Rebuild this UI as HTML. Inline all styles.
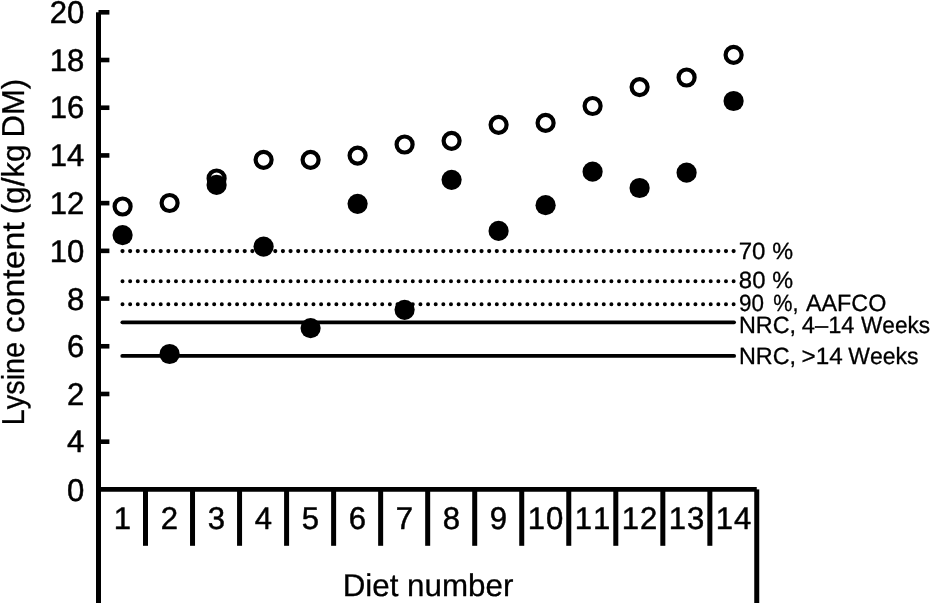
<!DOCTYPE html>
<html lang="en"><head><meta charset="utf-8"><title>Lysine content by diet number</title>
<style>html,body{margin:0;padding:0;background:#fff}svg{display:block}</style></head>
<body>
<svg width="931" height="603" viewBox="0 0 931 603">
<rect width="931" height="603" fill="#fff"/>
<g fill="#000" stroke="none">
<rect x="96" y="12.3" width="5" height="590.7"/>
<rect x="96" y="487" width="660.75" height="4.75"/>
<rect x="754.25" y="489.4" width="5" height="113.6"/>
<rect x="98.5" y="439.39" width="10.9" height="4.6"/>
<rect x="98.5" y="391.68" width="10.9" height="4.6"/>
<rect x="98.5" y="343.97" width="10.9" height="4.6"/>
<rect x="98.5" y="296.26" width="10.9" height="4.6"/>
<rect x="98.5" y="248.55" width="10.9" height="4.6"/>
<rect x="98.5" y="200.84" width="10.9" height="4.6"/>
<rect x="98.5" y="153.13" width="10.9" height="4.6"/>
<rect x="98.5" y="105.42" width="10.9" height="4.6"/>
<rect x="98.5" y="57.71" width="10.9" height="4.6"/>
<rect x="98.5" y="10.00" width="10.9" height="4.6"/>
<rect x="143.00" y="489" width="5" height="56.8"/>
<rect x="190.03" y="489" width="5" height="56.8"/>
<rect x="237.06" y="489" width="5" height="56.8"/>
<rect x="284.09" y="489" width="5" height="56.8"/>
<rect x="331.12" y="489" width="5" height="56.8"/>
<rect x="378.15" y="489" width="5" height="56.8"/>
<rect x="425.18" y="489" width="5" height="56.8"/>
<rect x="472.21" y="489" width="5" height="56.8"/>
<rect x="519.24" y="489" width="5" height="56.8"/>
<rect x="566.27" y="489" width="5" height="56.8"/>
<rect x="613.30" y="489" width="5" height="56.8"/>
<rect x="660.33" y="489" width="5" height="56.8"/>
<rect x="707.36" y="489" width="5" height="56.8"/>
</g>
<g stroke="#000" fill="none" stroke-linecap="round">
<line x1="122.5" y1="251.1" x2="733.8" y2="251.1" stroke-width="4.2" stroke-dasharray="0 7.639"/>
<line x1="122.5" y1="281.2" x2="733.8" y2="281.2" stroke-width="4.0" stroke-dasharray="0 7.639"/>
<line x1="122.5" y1="304.3" x2="733.8" y2="304.3" stroke-width="4.0" stroke-dasharray="0 7.639"/>
<line x1="122.3" y1="322.3" x2="734.1" y2="322.3" stroke-width="3.7"/>
<line x1="122.3" y1="355.9" x2="734.1" y2="355.9" stroke-width="3.9"/>
</g>
<g fill="#fff" stroke="#000" stroke-width="4.2">
<circle cx="122.6" cy="206.5" r="8.0"/>
<circle cx="169.6" cy="203" r="8.0"/>
<circle cx="216.6" cy="178.5" r="8.0"/>
<circle cx="263.6" cy="159.8" r="8.0"/>
<circle cx="310.6" cy="159.8" r="8.0"/>
<circle cx="357.6" cy="155.6" r="8.0"/>
<circle cx="404.6" cy="144.5" r="8.0"/>
<circle cx="451.6" cy="140.8" r="8.0"/>
<circle cx="498.6" cy="124.8" r="8.0"/>
<circle cx="545.6" cy="122.9" r="8.0"/>
<circle cx="592.6" cy="106" r="8.0"/>
<circle cx="639.6" cy="87.1" r="8.0"/>
<circle cx="686.6" cy="77.5" r="8.0"/>
<circle cx="733.6" cy="54.9" r="8.0"/>
</g><g fill="#000">
<circle cx="122.6" cy="235.1" r="10.1"/>
<circle cx="169.6" cy="354" r="10.1"/>
<circle cx="216.6" cy="184.9" r="10.1"/>
<circle cx="263.6" cy="246.6" r="10.1"/>
<circle cx="310.6" cy="328.1" r="10.1"/>
<circle cx="357.6" cy="203.85" r="10.1"/>
<circle cx="404.6" cy="309.8" r="10.1"/>
<circle cx="451.6" cy="179.8" r="10.1"/>
<circle cx="498.6" cy="230.9" r="10.1"/>
<circle cx="545.6" cy="205.2" r="10.1"/>
<circle cx="592.6" cy="171.7" r="10.1"/>
<circle cx="639.6" cy="188" r="10.1"/>
<circle cx="686.6" cy="172.7" r="10.1"/>
<circle cx="733.6" cy="101" r="10.1"/>
</g>
<g font-family="'Liberation Sans', Arial, Helvetica, sans-serif" fill="#000" stroke="#000" stroke-width="0.3" stroke-linejoin="round" text-rendering="geometricPrecision" style="font-kerning:none">
<text transform="translate(84.3 501) scale(0.99 1)" font-size="31.4" text-anchor="end" stroke-width="0.5">0</text>
<text transform="translate(84.3 452) scale(0.99 1)" font-size="31.4" text-anchor="end" stroke-width="0.5">4</text>
<text transform="translate(84.3 405) scale(0.99 1)" font-size="31.4" text-anchor="end" stroke-width="0.5">2</text>
<text transform="translate(84.3 357) scale(0.99 1)" font-size="31.4" text-anchor="end" stroke-width="0.5">6</text>
<text transform="translate(84.3 310) scale(0.99 1)" font-size="31.4" text-anchor="end" stroke-width="0.5">8</text>
<text transform="translate(84.3 262) scale(0.99 1)" font-size="31.4" text-anchor="end" stroke-width="0.5">10</text>
<text transform="translate(84.3 214) scale(0.99 1)" font-size="31.4" text-anchor="end" stroke-width="0.5">12</text>
<text transform="translate(84.3 166) scale(0.99 1)" font-size="31.4" text-anchor="end" stroke-width="0.5">14</text>
<text transform="translate(84.3 118) scale(0.99 1)" font-size="31.4" text-anchor="end" stroke-width="0.5">16</text>
<text transform="translate(84.3 71) scale(0.99 1)" font-size="31.4" text-anchor="end" stroke-width="0.5">18</text>
<text transform="translate(84.3 23) scale(0.99 1)" font-size="31.4" text-anchor="end" stroke-width="0.5">20</text>
<text transform="translate(122.5 529) scale(0.99 1)" font-size="31.4" text-anchor="middle" stroke-width="0.5">1</text>
<text transform="translate(169.5 529) scale(0.99 1)" font-size="31.4" text-anchor="middle" stroke-width="0.5">2</text>
<text transform="translate(216.5 529) scale(0.99 1)" font-size="31.4" text-anchor="middle" stroke-width="0.5">3</text>
<text transform="translate(263.5 529) scale(0.99 1)" font-size="31.4" text-anchor="middle" stroke-width="0.5">4</text>
<text transform="translate(310.5 529) scale(0.99 1)" font-size="31.4" text-anchor="middle" stroke-width="0.5">5</text>
<text transform="translate(357.5 529) scale(0.99 1)" font-size="31.4" text-anchor="middle" stroke-width="0.5">6</text>
<text transform="translate(404.5 529) scale(0.99 1)" font-size="31.4" text-anchor="middle" stroke-width="0.5">7</text>
<text transform="translate(451.5 529) scale(0.99 1)" font-size="31.4" text-anchor="middle" stroke-width="0.5">8</text>
<text transform="translate(498.5 529) scale(0.99 1)" font-size="31.4" text-anchor="middle" stroke-width="0.5">9</text>
<text transform="translate(545.9 529) scale(0.99 1)" font-size="31.4" text-anchor="middle" stroke-width="0.5" letter-spacing="1.0">10</text>
<text transform="translate(592.9 529) scale(0.99 1)" font-size="31.4" text-anchor="middle" stroke-width="0.5" letter-spacing="1.0">11</text>
<text transform="translate(639.9 529) scale(0.99 1)" font-size="31.4" text-anchor="middle" stroke-width="0.5" letter-spacing="1.0">12</text>
<text transform="translate(686.9 529) scale(0.99 1)" font-size="31.4" text-anchor="middle" stroke-width="0.5" letter-spacing="1.0">13</text>
<text transform="translate(733.9 529) scale(0.99 1)" font-size="31.4" text-anchor="middle" stroke-width="0.5" letter-spacing="1.0">14</text>
<text x="342.63" y="596" font-size="31.3" textLength="170.69" lengthAdjust="spacingAndGlyphs">Diet number</text>
<text transform="translate(23.6 423) rotate(-90)" y="0" font-size="31.7"><tspan x="-2.19" textLength="83.29" lengthAdjust="spacingAndGlyphs">Lysine</tspan> <tspan x="89.76" textLength="111.09" lengthAdjust="spacingAndGlyphs">content</tspan> <tspan x="208.65" textLength="69.98" lengthAdjust="spacingAndGlyphs">(g/kg</tspan> <tspan x="285.56" textLength="58.57" lengthAdjust="spacingAndGlyphs">DM)</tspan></text>
<text y="259" font-size="23.5"><tspan x="738.67" textLength="26.77" lengthAdjust="spacingAndGlyphs">70</tspan> <tspan x="772.16" textLength="20.87" lengthAdjust="spacingAndGlyphs">%</tspan></text>
<text y="288" font-size="23.5"><tspan x="738.86" textLength="26.57" lengthAdjust="spacingAndGlyphs">80</tspan> <tspan x="772.16" textLength="20.87" lengthAdjust="spacingAndGlyphs">%</tspan></text>
<text y="311" font-size="23.5"><tspan x="738.95" textLength="24.93" lengthAdjust="spacingAndGlyphs">90</tspan> <tspan x="773.23" textLength="25.21" lengthAdjust="spacingAndGlyphs">%,</tspan> <tspan x="805.95" textLength="80.36" lengthAdjust="spacingAndGlyphs">AAFCO</tspan></text>
<text y="333" font-size="23.5"><tspan x="738.98" textLength="57.12" lengthAdjust="spacingAndGlyphs">NRC,</tspan> <tspan x="801.86" textLength="52.64" lengthAdjust="spacingAndGlyphs">4–14</tspan> <tspan x="861.0" textLength="69.12" lengthAdjust="spacingAndGlyphs">Weeks</tspan></text>
<text y="364" font-size="23.5"><tspan x="738.98" textLength="57.12" lengthAdjust="spacingAndGlyphs">NRC,</tspan> <tspan x="801.5" textLength="41.21" lengthAdjust="spacingAndGlyphs">&gt;14</tspan> <tspan x="848.3" textLength="70.24" lengthAdjust="spacingAndGlyphs">Weeks</tspan></text>
</g></svg>
</body></html>
